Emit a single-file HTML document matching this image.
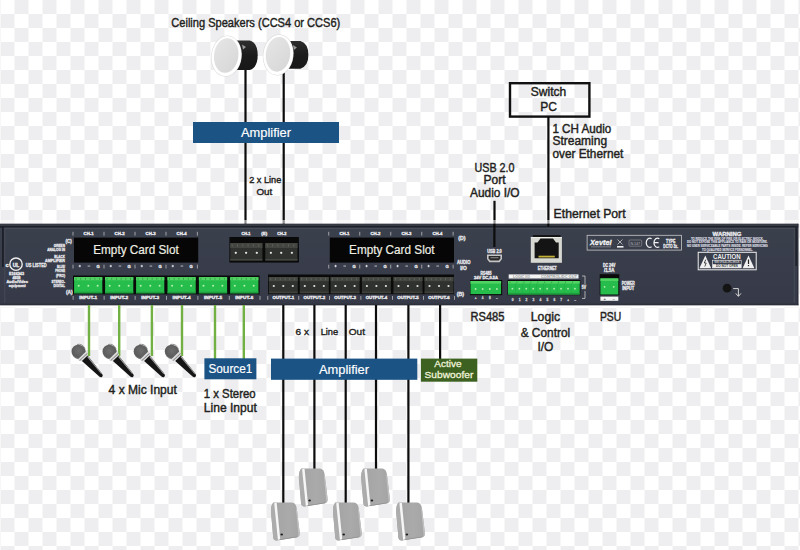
<!DOCTYPE html>
<html><head><meta charset="utf-8"><title>Diagram</title>
<style>
html,body{margin:0;padding:0;width:800px;height:550px;overflow:hidden;background:#fff;}
svg{display:block;font-family:"Liberation Sans",sans-serif;}
</style></head><body>
<svg width="800" height="550" viewBox="0 0 800 550">
<defs>
<pattern id="chk" x="0.5" y="0" width="28" height="28" patternUnits="userSpaceOnUse">
<rect width="28" height="28" fill="#ffffff"/>
<rect x="14" y="0" width="14" height="14" fill="#eeeef0"/>
<rect x="0" y="14" width="14" height="14" fill="#eeeef0"/>
</pattern>
<linearGradient id="face" x1="0" y1="0" x2="1" y2="1">
<stop offset="0" stop-color="#e6e6e6"/><stop offset="1" stop-color="#d6d6d6"/>
</linearGradient>
<linearGradient id="can" x1="0" y1="0" x2="0" y2="1">
<stop offset="0" stop-color="#2e2e2e"/><stop offset="0.5" stop-color="#1c1c1c"/><stop offset="1" stop-color="#181818"/>
</linearGradient>
<linearGradient id="wsp" x1="0" y1="0" x2="1" y2="0">
<stop offset="0" stop-color="#a2a2a2"/><stop offset="0.6" stop-color="#aaaaaa"/><stop offset="1" stop-color="#a4a4a4"/>
</linearGradient>
<radialGradient id="mic" cx="0.45" cy="0.45" r="0.6">
<stop offset="0" stop-color="#6e6e6e"/><stop offset="0.75" stop-color="#5c5c5c"/><stop offset="1" stop-color="#8a8a8a"/>
</radialGradient>
<g id="wall">
<path d="M2.1,0.3 L20.5,0.3 Q24.6,0.6 25.4,6.5 L28.3,30.5 Q28.6,34.3 25.8,34.9 L5.5,38.2 Q2.2,38.5 1.8,35 L-0.4,10 Q-0.6,2.5 2.1,0.3 Z" fill="url(#wsp)"/>
<path d="M2.1,0.3 Q-0.6,2.5 -0.4,10 L1.8,35 Q2.2,38.5 5.5,38.2 L6.4,38 L3,1 Z" fill="#acacac"/>
<path d="M2.8,1 Q4,0.4 5.3,0.6 L8.8,36.8 L6.5,37.6 Z" fill="#f6f6f6"/>
<path d="M25.4,6.5 L28.3,30.5 Q28.6,34.3 25.8,34.9 L27.1,33.3 L24.6,7 Z" fill="#c2c2c2"/>
<path d="M8.6,36.9 L25.8,34.2 L25.8,34.9 L8.6,37.8 Z" fill="#8e8e8e"/>
<ellipse cx="10.3" cy="32.2" rx="1.3" ry="1.1" fill="#1a1a1a"/>
</g>
<g id="micg">
<g transform="rotate(46.5)">
<ellipse cx="0.4" cy="0" rx="7.4" ry="7.1" fill="url(#mic)"/>
<path d="M-6.2,-3.8 A7.2,7.1 0 0 1 2.5,-6.8" fill="none" stroke="#8e8e8e" stroke-width="0.9"/>
<path d="M5.2,-6.2 L9.2,-4.6 L9.2,4.6 L5.2,6.2 Z" fill="#dcdcdc"/>
<path d="M7,-5.5 L7.8,-5.2 L7.8,5.2 L7,5.5 Z" fill="#7a7a7a"/>
<path d="M9.2,-3.9 L32,-2 Q34.6,-1.8 34.6,0 Q34.6,1.8 32,2 L9.2,3.9 Z" fill="#151515"/>
<path d="M10,-3.8 L32,-2 L32,-1.1 L10,-2.6 Z" fill="#a4a4a4"/>
</g>
</g>
<g id="gconn">
<rect x="0" y="0" width="28.2" height="16.2" fill="#27bd4c"/>
<rect x="0" y="0" width="28.2" height="3.2" fill="#52d262"/>
<rect x="0" y="14.6" width="28.2" height="1.6" fill="#1e9e3e"/>
<rect x="1.5" y="0.8" width="0.9" height="1.8" fill="#2a9e40"/><rect x="6.2" y="0.8" width="0.9" height="1.8" fill="#2a9e40"/><rect x="10.9" y="0.8" width="0.9" height="1.8" fill="#2a9e40"/><rect x="15.6" y="0.8" width="0.9" height="1.8" fill="#2a9e40"/><rect x="20.3" y="0.8" width="0.9" height="1.8" fill="#2a9e40"/><rect x="25" y="0.8" width="0.9" height="1.8" fill="#2a9e40"/>
<circle cx="4.6" cy="8.7" r="1" fill="#b4f0b0"/>
<circle cx="14.2" cy="8.7" r="1" fill="#b4f0b0"/>
<circle cx="23.5" cy="8.7" r="1" fill="#b4f0b0"/>
</g>
<g id="bconn">
<rect x="0" y="0" width="29" height="16.5" fill="#30322f"/>
<rect x="0" y="0" width="29" height="4.2" fill="#444741"/>
<rect x="0" y="14.8" width="29" height="0.8" fill="#4a4d48"/>
<rect x="1.5" y="1" width="0.9" height="2.3" fill="#5e615a"/><rect x="6.3" y="1" width="0.9" height="2.3" fill="#5e615a"/><rect x="11" y="1" width="0.9" height="2.3" fill="#5e615a"/><rect x="15.8" y="1" width="0.9" height="2.3" fill="#5e615a"/><rect x="20.6" y="1" width="0.9" height="2.3" fill="#5e615a"/><rect x="25.4" y="1" width="0.9" height="2.3" fill="#5e615a"/>
<circle cx="5" cy="9" r="1.1" fill="#e2e2e2"/>
<circle cx="14.5" cy="9" r="1.1" fill="#e2e2e2"/>
<circle cx="24" cy="9" r="1.1" fill="#e2e2e2"/>
</g>
<linearGradient id="panel" x1="0" y1="0" x2="0" y2="1">
<stop offset="0" stop-color="#3b404d"/><stop offset="1" stop-color="#363a48"/>
</linearGradient>
</defs>
<rect width="800" height="550" fill="url(#chk)"/>

<text x="171.3" y="27.1" font-size="12.5" fill="#231f20" textLength="169" lengthAdjust="spacingAndGlyphs" stroke="#231f20" stroke-width="0.42">Ceiling Speakers (CCS4 or CCS6)</text>
<rect x="244.4" y="66" width="2.2" height="158" fill="#0c0c0c"/>
<rect x="282.6" y="70" width="2.2" height="154" fill="#0c0c0c"/>
<path d="M233,40.5 L249.7,40.5 Q257.7,43.0 257.7,55.25 Q257.7,67.5 249.7,70 L233,70 Z" fill="url(#can)"/>
<path d="M242,44.5 L246,47.0 L243,49.5 Z" fill="#9a9a9a"/>
<ellipse cx="0" cy="0" rx="15.3" ry="20.6" fill="#d9d9d9" transform="translate(226.4,56.1) rotate(7)"/>
<ellipse cx="0" cy="0" rx="14.8" ry="20.1" fill="#fff" transform="translate(226.4,56.1) rotate(7)"/>
<ellipse cx="0" cy="0" rx="12.2" ry="17.4" fill="url(#face)" transform="translate(226.20000000000002,55.5) rotate(7)"/>
<path d="M283.9,40.9 L300.4,40.9 Q308.4,43.4 308.4,54.8 Q308.4,66.2 300.4,68.7 L283.9,68.7 Z" fill="url(#can)"/>
<path d="M292.9,44.9 L296.9,47.4 L293.9,49.9 Z" fill="#9a9a9a"/>
<ellipse cx="0" cy="0" rx="15.3" ry="20.6" fill="#d9d9d9" transform="translate(278.2,54.9) rotate(7)"/>
<ellipse cx="0" cy="0" rx="14.8" ry="20.1" fill="#fff" transform="translate(278.2,54.9) rotate(7)"/>
<ellipse cx="0" cy="0" rx="12.2" ry="17.4" fill="url(#face)" transform="translate(278.0,54.3) rotate(7)"/>
<rect x="193" y="122" width="146" height="21" fill="#1b5385"/>
<text x="266" y="136.6" font-size="13.5" fill="#fff" text-anchor="middle" textLength="50" lengthAdjust="spacingAndGlyphs" stroke="#fff" stroke-width="0.18">Amplifier</text>
<text x="265.2" y="182.5" font-size="9.6" fill="#231f20" text-anchor="middle" textLength="32.1" lengthAdjust="spacingAndGlyphs" stroke="#231f20" stroke-width="0.4">2 x Line</text>
<text x="264.3" y="195.3" font-size="9.6" fill="#231f20" text-anchor="middle" textLength="15.8" lengthAdjust="spacingAndGlyphs" stroke="#231f20" stroke-width="0.4">Out</text>
<rect x="510" y="83.2" width="79.4" height="33.4" fill="none" stroke="#111" stroke-width="2.4"/>
<text x="548.5" y="96.2" font-size="12" fill="#231f20" text-anchor="middle" stroke="#231f20" stroke-width="0.42">Switch</text>
<text x="548.5" y="110.7" font-size="12" fill="#231f20" text-anchor="middle" stroke="#231f20" stroke-width="0.42">PC</text>
<rect x="547.3" y="117" width="2.2" height="108" fill="#0c0c0c"/>
<text x="552.4" y="132.5" font-size="12" fill="#231f20" textLength="58.8" lengthAdjust="spacingAndGlyphs" stroke="#231f20" stroke-width="0.42">1 CH Audio</text>
<text x="552.4" y="145.2" font-size="12" fill="#231f20" stroke="#231f20" stroke-width="0.42">Streaming</text>
<text x="552.4" y="157.8" font-size="12" fill="#231f20" textLength="71" lengthAdjust="spacingAndGlyphs" stroke="#231f20" stroke-width="0.42">over Ethernet</text>
<text x="494.5" y="171.7" font-size="12" fill="#231f20" text-anchor="middle" textLength="40" lengthAdjust="spacingAndGlyphs" stroke="#231f20" stroke-width="0.42">USB 2.0</text>
<text x="494.5" y="184.3" font-size="12" fill="#231f20" text-anchor="middle" stroke="#231f20" stroke-width="0.42">Port</text>
<text x="494.8" y="197" font-size="12" fill="#231f20" text-anchor="middle" textLength="49.6" lengthAdjust="spacingAndGlyphs" stroke="#231f20" stroke-width="0.42">Audio I/O</text>
<rect x="493.4" y="200.8" width="2.2" height="24" fill="#0c0c0c"/>
<text x="553.6" y="217.7" font-size="12" fill="#231f20" textLength="72" lengthAdjust="spacingAndGlyphs" stroke="#231f20" stroke-width="0.42">Ethernet Port</text>
<rect x="0" y="305" width="798" height="2.6" fill="#ffffff"/>
<rect x="0" y="220" width="798" height="3.8" fill="#ffffff" opacity="0.55"/>
<rect x="0" y="223.8" width="798.3" height="81.4" fill="url(#panel)"/>
<rect x="0" y="223.8" width="798.3" height="2.3" fill="#363a43"/>
<rect x="0" y="226.1" width="798.3" height="1.6" fill="#1b1e26"/>
<rect x="4.3" y="227.7" width="790.5" height="1.2" fill="#4a4f5b"/>
<rect x="4.3" y="227.7" width="1" height="75" fill="#464b57"/>
<rect x="793.8" y="227.7" width="1" height="75" fill="#464b57"/>
<rect x="797.2" y="223.8" width="1.1" height="81.4" fill="#2a2d36"/>
<rect x="0" y="303.7" width="798.3" height="1.5" fill="#2d303b"/>
<rect x="2" y="226" width="1.8" height="41" fill="#1c1f27"/>
<rect x="795.4" y="228" width="1.5" height="38" fill="#1e2026"/>
<rect x="493.3" y="224" width="2.2" height="23" fill="#0c0c0c"/>
<rect x="547.2" y="224" width="2.2" height="2.6" fill="#0c0c0c"/>
<circle cx="16" cy="264.2" r="6.2" fill="none" stroke="#eee" stroke-width="1.4"/>
<text x="16" y="266.5" font-size="6.2" fill="#eee" text-anchor="middle" textLength="6.6" lengthAdjust="spacingAndGlyphs" font-weight="bold" stroke="#eee" stroke-width="0.4">UL</text>
<text x="7" y="266.6" font-size="5.8" fill="#eee" text-anchor="middle" font-weight="bold" stroke="#eee" stroke-width="0.3">c</text>
<text x="36.3" y="266.6" font-size="5" fill="#e9e9ec" text-anchor="middle" textLength="20.9" lengthAdjust="spacingAndGlyphs" font-weight="bold" stroke="#e9e9ec" stroke-width="0.32">US LISTED</text>
<text x="16.5" y="274.912" font-size="4.2" fill="#e9e9ec" text-anchor="middle" textLength="15" lengthAdjust="spacingAndGlyphs" font-weight="bold" stroke="#e9e9ec" stroke-width="0.32">E166343</text>
<text x="16.5" y="278.812" font-size="4.2" fill="#e9e9ec" text-anchor="middle" textLength="8" lengthAdjust="spacingAndGlyphs" font-weight="bold" stroke="#e9e9ec" stroke-width="0.32">4B5B</text>
<text x="17.2" y="283.012" font-size="4.2" fill="#e9e9ec" text-anchor="middle" textLength="21.5" lengthAdjust="spacingAndGlyphs" font-weight="bold" stroke="#e9e9ec" stroke-width="0.32">Audio/Video</text>
<text x="17.2" y="287.012" font-size="4.2" fill="#e9e9ec" text-anchor="middle" textLength="17" lengthAdjust="spacingAndGlyphs" font-weight="bold" stroke="#e9e9ec" stroke-width="0.32">equipment</text>
<text x="65" y="247.212" font-size="4.2" fill="#e9e9ec" text-anchor="end" textLength="11.2" lengthAdjust="spacingAndGlyphs" font-weight="bold" stroke="#e9e9ec" stroke-width="0.32">GREEN</text>
<text x="65" y="251.012" font-size="4.2" fill="#e9e9ec" text-anchor="end" textLength="17.8" lengthAdjust="spacingAndGlyphs" font-weight="bold" stroke="#e9e9ec" stroke-width="0.32">ANALOG IN</text>
<text x="65" y="258.012" font-size="4.2" fill="#e9e9ec" text-anchor="end" textLength="10.7" lengthAdjust="spacingAndGlyphs" font-weight="bold" stroke="#e9e9ec" stroke-width="0.32">BLACK</text>
<text x="65" y="261.912" font-size="4.2" fill="#e9e9ec" text-anchor="end" textLength="20" lengthAdjust="spacingAndGlyphs" font-weight="bold" stroke="#e9e9ec" stroke-width="0.32">AMPLIFIER</text>
<text x="65" y="268.312" font-size="4.2" fill="#e9e9ec" text-anchor="end" textLength="8" lengthAdjust="spacingAndGlyphs" font-weight="bold" stroke="#e9e9ec" stroke-width="0.32">BLUE/</text>
<text x="65" y="272.312" font-size="4.2" fill="#e9e9ec" text-anchor="end" textLength="9.8" lengthAdjust="spacingAndGlyphs" font-weight="bold" stroke="#e9e9ec" stroke-width="0.32">PHONE</text>
<text x="65" y="276.612" font-size="4.2" fill="#e9e9ec" text-anchor="end" textLength="9" lengthAdjust="spacingAndGlyphs" font-weight="bold" stroke="#e9e9ec" stroke-width="0.32">(PRO)</text>
<text x="65" y="283.012" font-size="4.2" fill="#e9e9ec" text-anchor="end" textLength="13.5" lengthAdjust="spacingAndGlyphs" font-weight="bold" stroke="#e9e9ec" stroke-width="0.32">STEREO-</text>
<text x="65" y="287.312" font-size="4.2" fill="#e9e9ec" text-anchor="end" textLength="11.5" lengthAdjust="spacingAndGlyphs" font-weight="bold" stroke="#e9e9ec" stroke-width="0.32">DIGITAL</text>
<text x="68.7" y="242.70000000000002" font-size="5" fill="#e9e9ec" text-anchor="middle" textLength="6.4" lengthAdjust="spacingAndGlyphs" font-weight="bold" stroke="#e9e9ec" stroke-width="0.32">(C)</text>
<text x="69.3" y="294.0" font-size="5" fill="#e9e9ec" text-anchor="middle" textLength="6.7" lengthAdjust="spacingAndGlyphs" font-weight="bold" stroke="#e9e9ec" stroke-width="0.32">(A)</text>
<rect x="74" y="237.6" width="124.2" height="25" fill="#060606"/>
<text x="136" y="254.4" font-size="13.3" fill="#efefe4" text-anchor="middle" textLength="85.5" lengthAdjust="spacingAndGlyphs" stroke="#efefe4" stroke-width="0.2">Empty Card Slot</text>
<text x="88.6" y="235.304" font-size="3.9" fill="#e9e9ec" text-anchor="middle" textLength="10" lengthAdjust="spacingAndGlyphs" font-weight="bold" stroke="#e9e9ec" stroke-width="0.32">CH-1</text>
<rect x="72.6" y="231.8" width="0.8" height="3.8" fill="#bbb"/>
<rect x="78.6" y="265.6" width="2.4" height="0.9" fill="#e4e4e8"/>
<rect x="79.35" y="264.85" width="0.9" height="2.4" fill="#e4e4e8"/>
<rect x="87.6" y="265.6" width="2.6" height="0.9" fill="#c8c8cc"/>
<text x="98.2" y="267.684" font-size="4.4" fill="#e9e9ec" text-anchor="middle" textLength="3.2" lengthAdjust="spacingAndGlyphs" font-weight="bold" stroke="#e9e9ec" stroke-width="0.32">G</text>
<rect x="72.6" y="264.7" width="0.8" height="3.8" fill="#bbb"/>
<text x="119.6" y="235.304" font-size="3.9" fill="#e9e9ec" text-anchor="middle" textLength="10" lengthAdjust="spacingAndGlyphs" font-weight="bold" stroke="#e9e9ec" stroke-width="0.32">CH-2</text>
<rect x="103.6" y="231.8" width="0.8" height="3.8" fill="#bbb"/>
<rect x="109.6" y="265.6" width="2.4" height="0.9" fill="#e4e4e8"/>
<rect x="110.35" y="264.85" width="0.9" height="2.4" fill="#e4e4e8"/>
<rect x="118.6" y="265.6" width="2.6" height="0.9" fill="#c8c8cc"/>
<text x="129.2" y="267.684" font-size="4.4" fill="#e9e9ec" text-anchor="middle" textLength="3.2" lengthAdjust="spacingAndGlyphs" font-weight="bold" stroke="#e9e9ec" stroke-width="0.32">G</text>
<rect x="103.6" y="264.7" width="0.8" height="3.8" fill="#bbb"/>
<text x="150.6" y="235.304" font-size="3.9" fill="#e9e9ec" text-anchor="middle" textLength="10" lengthAdjust="spacingAndGlyphs" font-weight="bold" stroke="#e9e9ec" stroke-width="0.32">CH-3</text>
<rect x="134.6" y="231.8" width="0.8" height="3.8" fill="#bbb"/>
<rect x="140.6" y="265.6" width="2.4" height="0.9" fill="#e4e4e8"/>
<rect x="141.35" y="264.85" width="0.9" height="2.4" fill="#e4e4e8"/>
<rect x="149.6" y="265.6" width="2.6" height="0.9" fill="#c8c8cc"/>
<text x="160.2" y="267.684" font-size="4.4" fill="#e9e9ec" text-anchor="middle" textLength="3.2" lengthAdjust="spacingAndGlyphs" font-weight="bold" stroke="#e9e9ec" stroke-width="0.32">G</text>
<rect x="134.6" y="264.7" width="0.8" height="3.8" fill="#bbb"/>
<text x="181.6" y="235.304" font-size="3.9" fill="#e9e9ec" text-anchor="middle" textLength="10" lengthAdjust="spacingAndGlyphs" font-weight="bold" stroke="#e9e9ec" stroke-width="0.32">CH-4</text>
<rect x="165.6" y="231.8" width="0.8" height="3.8" fill="#bbb"/>
<rect x="171.6" y="265.6" width="2.4" height="0.9" fill="#e4e4e8"/>
<rect x="172.35" y="264.85" width="0.9" height="2.4" fill="#e4e4e8"/>
<rect x="180.6" y="265.6" width="2.6" height="0.9" fill="#c8c8cc"/>
<text x="191.2" y="267.684" font-size="4.4" fill="#e9e9ec" text-anchor="middle" textLength="3.2" lengthAdjust="spacingAndGlyphs" font-weight="bold" stroke="#e9e9ec" stroke-width="0.32">G</text>
<rect x="165.6" y="264.7" width="0.8" height="3.8" fill="#bbb"/>
<rect x="196.9" y="231.8" width="0.8" height="3.8" fill="#bbb"/>
<rect x="196.9" y="264.7" width="0.8" height="3.8" fill="#bbb"/>
<rect x="329.8" y="237.6" width="124.2" height="25" fill="#060606"/>
<text x="391.8" y="254.4" font-size="13.3" fill="#efefe4" text-anchor="middle" textLength="85.5" lengthAdjust="spacingAndGlyphs" stroke="#efefe4" stroke-width="0.2">Empty Card Slot</text>
<text x="344.40000000000003" y="235.304" font-size="3.9" fill="#e9e9ec" text-anchor="middle" textLength="10" lengthAdjust="spacingAndGlyphs" font-weight="bold" stroke="#e9e9ec" stroke-width="0.32">CH-1</text>
<rect x="328.40000000000003" y="231.8" width="0.8" height="3.8" fill="#bbb"/>
<rect x="334.40000000000003" y="265.6" width="2.4" height="0.9" fill="#e4e4e8"/>
<rect x="335.15000000000003" y="264.85" width="0.9" height="2.4" fill="#e4e4e8"/>
<rect x="343.40000000000003" y="265.6" width="2.6" height="0.9" fill="#c8c8cc"/>
<text x="354.0" y="267.684" font-size="4.4" fill="#e9e9ec" text-anchor="middle" textLength="3.2" lengthAdjust="spacingAndGlyphs" font-weight="bold" stroke="#e9e9ec" stroke-width="0.32">G</text>
<rect x="328.40000000000003" y="264.7" width="0.8" height="3.8" fill="#bbb"/>
<text x="375.40000000000003" y="235.304" font-size="3.9" fill="#e9e9ec" text-anchor="middle" textLength="10" lengthAdjust="spacingAndGlyphs" font-weight="bold" stroke="#e9e9ec" stroke-width="0.32">CH-2</text>
<rect x="359.40000000000003" y="231.8" width="0.8" height="3.8" fill="#bbb"/>
<rect x="365.40000000000003" y="265.6" width="2.4" height="0.9" fill="#e4e4e8"/>
<rect x="366.15000000000003" y="264.85" width="0.9" height="2.4" fill="#e4e4e8"/>
<rect x="374.40000000000003" y="265.6" width="2.6" height="0.9" fill="#c8c8cc"/>
<text x="385.0" y="267.684" font-size="4.4" fill="#e9e9ec" text-anchor="middle" textLength="3.2" lengthAdjust="spacingAndGlyphs" font-weight="bold" stroke="#e9e9ec" stroke-width="0.32">G</text>
<rect x="359.40000000000003" y="264.7" width="0.8" height="3.8" fill="#bbb"/>
<text x="406.40000000000003" y="235.304" font-size="3.9" fill="#e9e9ec" text-anchor="middle" textLength="10" lengthAdjust="spacingAndGlyphs" font-weight="bold" stroke="#e9e9ec" stroke-width="0.32">CH-3</text>
<rect x="390.40000000000003" y="231.8" width="0.8" height="3.8" fill="#bbb"/>
<rect x="396.40000000000003" y="265.6" width="2.4" height="0.9" fill="#e4e4e8"/>
<rect x="397.15000000000003" y="264.85" width="0.9" height="2.4" fill="#e4e4e8"/>
<rect x="405.40000000000003" y="265.6" width="2.6" height="0.9" fill="#c8c8cc"/>
<text x="416.0" y="267.684" font-size="4.4" fill="#e9e9ec" text-anchor="middle" textLength="3.2" lengthAdjust="spacingAndGlyphs" font-weight="bold" stroke="#e9e9ec" stroke-width="0.32">G</text>
<rect x="390.40000000000003" y="264.7" width="0.8" height="3.8" fill="#bbb"/>
<text x="437.40000000000003" y="235.304" font-size="3.9" fill="#e9e9ec" text-anchor="middle" textLength="10" lengthAdjust="spacingAndGlyphs" font-weight="bold" stroke="#e9e9ec" stroke-width="0.32">CH-4</text>
<rect x="421.40000000000003" y="231.8" width="0.8" height="3.8" fill="#bbb"/>
<rect x="427.40000000000003" y="265.6" width="2.4" height="0.9" fill="#e4e4e8"/>
<rect x="428.15000000000003" y="264.85" width="0.9" height="2.4" fill="#e4e4e8"/>
<rect x="436.40000000000003" y="265.6" width="2.6" height="0.9" fill="#c8c8cc"/>
<text x="447.0" y="267.684" font-size="4.4" fill="#e9e9ec" text-anchor="middle" textLength="3.2" lengthAdjust="spacingAndGlyphs" font-weight="bold" stroke="#e9e9ec" stroke-width="0.32">G</text>
<rect x="421.40000000000003" y="264.7" width="0.8" height="3.8" fill="#bbb"/>
<rect x="452.70000000000005" y="231.8" width="0.8" height="3.8" fill="#bbb"/>
<rect x="452.70000000000005" y="264.7" width="0.8" height="3.8" fill="#bbb"/>
<rect x="229.4" y="237" width="69.5" height="25.6" fill="#0a0a0a"/>
<rect x="230.2" y="243" width="32.2" height="18" fill="#30322f"/>
<rect x="230.2" y="243" width="32.2" height="5" fill="#434640"/>
<rect x="231.7" y="244.2" width="1" height="2.4" fill="#5c5f58"/>
<rect x="237.0" y="244.2" width="1" height="2.4" fill="#5c5f58"/>
<rect x="242.29999999999998" y="244.2" width="1" height="2.4" fill="#5c5f58"/>
<rect x="247.6" y="244.2" width="1" height="2.4" fill="#5c5f58"/>
<rect x="252.89999999999998" y="244.2" width="1" height="2.4" fill="#5c5f58"/>
<rect x="258.2" y="244.2" width="1" height="2.4" fill="#5c5f58"/>
<rect x="230.2" y="259.2" width="32.2" height="0.8" fill="#4a4d48"/>
<circle cx="235.79999999999998" cy="252.8" r="1.15" fill="#e4e4e4"/>
<circle cx="246.1" cy="252.8" r="1.15" fill="#e4e4e4"/>
<circle cx="256.8" cy="252.8" r="1.15" fill="#e4e4e4"/>
<rect x="265.3" y="243" width="32.2" height="18" fill="#30322f"/>
<rect x="265.3" y="243" width="32.2" height="5" fill="#434640"/>
<rect x="266.8" y="244.2" width="1" height="2.4" fill="#5c5f58"/>
<rect x="272.1" y="244.2" width="1" height="2.4" fill="#5c5f58"/>
<rect x="277.40000000000003" y="244.2" width="1" height="2.4" fill="#5c5f58"/>
<rect x="282.7" y="244.2" width="1" height="2.4" fill="#5c5f58"/>
<rect x="288.0" y="244.2" width="1" height="2.4" fill="#5c5f58"/>
<rect x="293.3" y="244.2" width="1" height="2.4" fill="#5c5f58"/>
<rect x="265.3" y="259.2" width="32.2" height="0.8" fill="#4a4d48"/>
<circle cx="270.90000000000003" cy="252.8" r="1.15" fill="#e4e4e4"/>
<circle cx="281.2" cy="252.8" r="1.15" fill="#e4e4e4"/>
<circle cx="291.90000000000003" cy="252.8" r="1.15" fill="#e4e4e4"/>
<text x="246" y="235.004" font-size="3.9" fill="#e9e9ec" text-anchor="middle" textLength="9" lengthAdjust="spacingAndGlyphs" font-weight="bold" stroke="#e9e9ec" stroke-width="0.32">CH-1</text>
<text x="264.2" y="235.112" font-size="4.2" fill="#e9e9ec" text-anchor="middle" textLength="6" lengthAdjust="spacingAndGlyphs" font-weight="bold" stroke="#e9e9ec" stroke-width="0.32">(E)</text>
<text x="281.8" y="235.004" font-size="3.9" fill="#e9e9ec" text-anchor="middle" textLength="9" lengthAdjust="spacingAndGlyphs" font-weight="bold" stroke="#e9e9ec" stroke-width="0.32">CH-2</text>
<rect x="73" y="275.5" width="186.6" height="18.8" fill="#0a0a0a"/>
<use href="#gconn" transform="translate(74.1,277.1)"/>
<text x="88.19999999999999" y="299.23199999999997" font-size="3.7" fill="#e9e9ec" text-anchor="middle" textLength="18" lengthAdjust="spacingAndGlyphs" font-weight="bold" stroke="#e9e9ec" stroke-width="0.32">INPUT-1</text>
<rect x="72.69999999999999" y="296" width="0.8" height="3.8" fill="#bbb"/>
<use href="#gconn" transform="translate(105.1,277.1)"/>
<text x="119.19999999999999" y="299.23199999999997" font-size="3.7" fill="#e9e9ec" text-anchor="middle" textLength="18" lengthAdjust="spacingAndGlyphs" font-weight="bold" stroke="#e9e9ec" stroke-width="0.32">INPUT-2</text>
<rect x="103.69999999999999" y="296" width="0.8" height="3.8" fill="#bbb"/>
<use href="#gconn" transform="translate(136.1,277.1)"/>
<text x="150.2" y="299.23199999999997" font-size="3.7" fill="#e9e9ec" text-anchor="middle" textLength="18" lengthAdjust="spacingAndGlyphs" font-weight="bold" stroke="#e9e9ec" stroke-width="0.32">INPUT-3</text>
<rect x="134.7" y="296" width="0.8" height="3.8" fill="#bbb"/>
<use href="#gconn" transform="translate(167.5,277.1)"/>
<text x="181.6" y="299.23199999999997" font-size="3.7" fill="#e9e9ec" text-anchor="middle" textLength="18" lengthAdjust="spacingAndGlyphs" font-weight="bold" stroke="#e9e9ec" stroke-width="0.32">INPUT-4</text>
<rect x="166.1" y="296" width="0.8" height="3.8" fill="#bbb"/>
<use href="#gconn" transform="translate(198.9,277.1)"/>
<text x="213.0" y="299.23199999999997" font-size="3.7" fill="#e9e9ec" text-anchor="middle" textLength="18" lengthAdjust="spacingAndGlyphs" font-weight="bold" stroke="#e9e9ec" stroke-width="0.32">INPUT-5</text>
<rect x="197.5" y="296" width="0.8" height="3.8" fill="#bbb"/>
<use href="#gconn" transform="translate(230.2,277.1)"/>
<text x="244.29999999999998" y="299.23199999999997" font-size="3.7" fill="#e9e9ec" text-anchor="middle" textLength="18" lengthAdjust="spacingAndGlyphs" font-weight="bold" stroke="#e9e9ec" stroke-width="0.32">INPUT-6</text>
<rect x="228.79999999999998" y="296" width="0.8" height="3.8" fill="#bbb"/>
<rect x="259.6" y="296" width="0.8" height="3.8" fill="#bbb"/>
<rect x="268" y="274.5" width="186" height="19.7" fill="#0a0a0a"/>
<use href="#bconn" transform="translate(268.8,277)"/>
<text x="283.3" y="299.23199999999997" font-size="3.7" fill="#e9e9ec" text-anchor="middle" textLength="21.5" lengthAdjust="spacingAndGlyphs" font-weight="bold" stroke="#e9e9ec" stroke-width="0.32">OUTPUT-1</text>
<rect x="267.40000000000003" y="296" width="0.8" height="3.8" fill="#bbb"/>
<use href="#bconn" transform="translate(299.8,277)"/>
<text x="314.3" y="299.23199999999997" font-size="3.7" fill="#e9e9ec" text-anchor="middle" textLength="21.5" lengthAdjust="spacingAndGlyphs" font-weight="bold" stroke="#e9e9ec" stroke-width="0.32">OUTPUT-2</text>
<rect x="298.40000000000003" y="296" width="0.8" height="3.8" fill="#bbb"/>
<use href="#bconn" transform="translate(330.6,277)"/>
<text x="345.1" y="299.23199999999997" font-size="3.7" fill="#e9e9ec" text-anchor="middle" textLength="21.5" lengthAdjust="spacingAndGlyphs" font-weight="bold" stroke="#e9e9ec" stroke-width="0.32">OUTPUT-3</text>
<rect x="329.20000000000005" y="296" width="0.8" height="3.8" fill="#bbb"/>
<use href="#bconn" transform="translate(361.9,277)"/>
<text x="376.4" y="299.23199999999997" font-size="3.7" fill="#e9e9ec" text-anchor="middle" textLength="21.5" lengthAdjust="spacingAndGlyphs" font-weight="bold" stroke="#e9e9ec" stroke-width="0.32">OUTPUT-4</text>
<rect x="360.5" y="296" width="0.8" height="3.8" fill="#bbb"/>
<use href="#bconn" transform="translate(393.5,277)"/>
<text x="408.0" y="299.23199999999997" font-size="3.7" fill="#e9e9ec" text-anchor="middle" textLength="21.5" lengthAdjust="spacingAndGlyphs" font-weight="bold" stroke="#e9e9ec" stroke-width="0.32">OUTPUT-5</text>
<rect x="392.1" y="296" width="0.8" height="3.8" fill="#bbb"/>
<use href="#bconn" transform="translate(424.5,277)"/>
<text x="439.0" y="299.23199999999997" font-size="3.7" fill="#e9e9ec" text-anchor="middle" textLength="21.5" lengthAdjust="spacingAndGlyphs" font-weight="bold" stroke="#e9e9ec" stroke-width="0.32">OUTPUT-6</text>
<rect x="423.1" y="296" width="0.8" height="3.8" fill="#bbb"/>
<rect x="454.2" y="296" width="0.8" height="3.8" fill="#bbb"/>
<text x="461.8" y="240.4" font-size="5" fill="#e9e9ec" text-anchor="middle" textLength="7.3" lengthAdjust="spacingAndGlyphs" font-weight="bold" stroke="#e9e9ec" stroke-width="0.32">(D)</text>
<text x="463.8" y="264.25600000000003" font-size="4.6" fill="#e9e9ec" text-anchor="middle" textLength="13.5" lengthAdjust="spacingAndGlyphs" font-weight="bold" stroke="#e9e9ec" stroke-width="0.32">AUDIO</text>
<text x="463.5" y="270.156" font-size="4.6" fill="#e9e9ec" text-anchor="middle" textLength="6.5" lengthAdjust="spacingAndGlyphs" font-weight="bold" stroke="#e9e9ec" stroke-width="0.32">I/O</text>
<text x="460.3" y="296.0" font-size="5" fill="#e9e9ec" text-anchor="middle" textLength="7.3" lengthAdjust="spacingAndGlyphs" font-weight="bold" stroke="#e9e9ec" stroke-width="0.32">(B)</text>
<text x="494.5" y="253.22" font-size="4.5" fill="#e9e9ec" text-anchor="middle" textLength="14.5" lengthAdjust="spacingAndGlyphs" font-weight="bold" stroke="#e9e9ec" stroke-width="0.32">USB 2.0</text>
<path d="M487,254.4 L502,254.4 L502,259 L499.6,262.2 L489.4,262.2 L487,259 Z" fill="#c4c4c4"/>
<path d="M488.6,256 L500.4,256 L500.4,258.6 L498.8,260.6 L490.2,260.6 L488.6,258.6 Z" fill="#2a2a2a"/>
<rect x="490.5" y="257" width="8" height="1.3" fill="#777"/>
<rect x="533" y="235" width="27.5" height="2.2" fill="#151515"/>
<rect x="530.8" y="237" width="31.1" height="25.8" fill="#d8d8d2"/>
<rect x="530.8" y="237" width="31.1" height="0.8" fill="#f2f2ee"/>
<path d="M534.6,242.6 L537.5,242.6 L540.5,238.6 L553,238.6 L556,242.6 L558.7,242.6 L558.7,258.3 L534.6,258.3 Z" fill="#141414"/>
<rect x="538.5" y="255.7" width="16.3" height="1.8" fill="#c2b038"/>
<text x="547.2" y="269.82" font-size="4.5" fill="#e9e9ec" text-anchor="middle" textLength="19" lengthAdjust="spacingAndGlyphs" font-weight="bold" stroke="#e9e9ec" stroke-width="0.32">ETHERNET</text>
<text x="486" y="274.62" font-size="4.5" fill="#e9e9ec" text-anchor="middle" textLength="11" lengthAdjust="spacingAndGlyphs" font-weight="bold" stroke="#e9e9ec" stroke-width="0.32">RS485</text>
<text x="486" y="278.548" font-size="4.3" fill="#e9e9ec" text-anchor="middle" textLength="24" lengthAdjust="spacingAndGlyphs" font-weight="bold" stroke="#e9e9ec" stroke-width="0.32">24V DC,0.5A</text>
<rect x="470" y="280" width="32.2" height="15.2" fill="#0a0a0a"/>
<rect x="470.5" y="281" width="30.6" height="13.1" fill="#27bd4c"/>
<rect x="470.5" y="281" width="30.6" height="2.6" fill="#52d262"/>
<circle cx="475.6" cy="289" r="0.9" fill="#b4f0b0"/>
<circle cx="482.70000000000005" cy="289" r="0.9" fill="#b4f0b0"/>
<circle cx="489.8" cy="289" r="0.9" fill="#b4f0b0"/>
<circle cx="496.90000000000003" cy="289" r="0.9" fill="#b4f0b0"/>
<text x="475.6" y="298.524" font-size="3.4" fill="#c8c8cc" text-anchor="middle" textLength="1.8" lengthAdjust="spacingAndGlyphs" font-weight="bold" stroke="#c8c8cc" stroke-width="0.32">+</text>
<text x="482.70000000000005" y="298.524" font-size="3.4" fill="#c8c8cc" text-anchor="middle" textLength="1.8" lengthAdjust="spacingAndGlyphs" font-weight="bold" stroke="#c8c8cc" stroke-width="0.32">A</text>
<text x="489.8" y="298.524" font-size="3.4" fill="#c8c8cc" text-anchor="middle" textLength="1.8" lengthAdjust="spacingAndGlyphs" font-weight="bold" stroke="#c8c8cc" stroke-width="0.32">B</text>
<text x="496.90000000000003" y="298.524" font-size="3.4" fill="#c8c8cc" text-anchor="middle" textLength="1.8" lengthAdjust="spacingAndGlyphs" font-weight="bold" stroke="#c8c8cc" stroke-width="0.32">–</text>
<rect x="507.5" y="280" width="72.8" height="15.2" fill="#0a0a0a"/>
<rect x="508" y="281" width="71.7" height="13.5" fill="#27bd4c"/>
<rect x="508" y="281" width="71.7" height="2.6" fill="#52d262"/>
<rect x="508.7" y="274.4" width="69.8" height="4.1" fill="#f4f4f4"/>
<text x="513" y="278" font-size="3.6" fill="#999" textLength="17" lengthAdjust="spacingAndGlyphs" font-weight="bold">LOGIC I/O</text>
<text x="541" y="278" font-size="3.6" fill="#999" textLength="36" lengthAdjust="spacingAndGlyphs" font-weight="bold">CONTROL/DC OUT</text>
<circle cx="512.4" cy="288.7" r="0.9" fill="#b4f0b0"/>
<rect x="509.6" y="281.6" width="0.8" height="1.6" fill="#2a9e40"/>
<rect x="515.3" y="283.5" width="0.5" height="10.5" fill="#22a846"/>
<circle cx="519.35" cy="288.7" r="0.9" fill="#b4f0b0"/>
<rect x="516.5500000000001" y="281.6" width="0.8" height="1.6" fill="#2a9e40"/>
<rect x="522.25" y="283.5" width="0.5" height="10.5" fill="#22a846"/>
<circle cx="526.3" cy="288.7" r="0.9" fill="#b4f0b0"/>
<rect x="523.5" y="281.6" width="0.8" height="1.6" fill="#2a9e40"/>
<rect x="529.1999999999999" y="283.5" width="0.5" height="10.5" fill="#22a846"/>
<circle cx="533.25" cy="288.7" r="0.9" fill="#b4f0b0"/>
<rect x="530.45" y="281.6" width="0.8" height="1.6" fill="#2a9e40"/>
<rect x="536.15" y="283.5" width="0.5" height="10.5" fill="#22a846"/>
<circle cx="540.1999999999999" cy="288.7" r="0.9" fill="#b4f0b0"/>
<rect x="537.4" y="281.6" width="0.8" height="1.6" fill="#2a9e40"/>
<rect x="543.0999999999999" y="283.5" width="0.5" height="10.5" fill="#22a846"/>
<circle cx="547.15" cy="288.7" r="0.9" fill="#b4f0b0"/>
<rect x="544.35" y="281.6" width="0.8" height="1.6" fill="#2a9e40"/>
<rect x="550.05" y="283.5" width="0.5" height="10.5" fill="#22a846"/>
<circle cx="554.1" cy="288.7" r="0.9" fill="#b4f0b0"/>
<rect x="551.3000000000001" y="281.6" width="0.8" height="1.6" fill="#2a9e40"/>
<rect x="557.0" y="283.5" width="0.5" height="10.5" fill="#22a846"/>
<circle cx="561.05" cy="288.7" r="0.9" fill="#b4f0b0"/>
<rect x="558.25" y="281.6" width="0.8" height="1.6" fill="#2a9e40"/>
<rect x="563.9499999999999" y="283.5" width="0.5" height="10.5" fill="#22a846"/>
<circle cx="568.0" cy="288.7" r="0.9" fill="#b4f0b0"/>
<rect x="565.2" y="281.6" width="0.8" height="1.6" fill="#2a9e40"/>
<rect x="570.9" y="283.5" width="0.5" height="10.5" fill="#22a846"/>
<circle cx="574.9499999999999" cy="288.7" r="0.9" fill="#b4f0b0"/>
<rect x="572.15" y="281.6" width="0.8" height="1.6" fill="#2a9e40"/>
<rect x="577.8499999999999" y="283.5" width="0.5" height="10.5" fill="#22a846"/>
<rect x="508" y="292.8" width="71.7" height="1.7" fill="#1e9e3e"/>
<text x="512.6" y="300.824" font-size="3.4" fill="#c8c8cc" text-anchor="middle" textLength="1.8" lengthAdjust="spacingAndGlyphs" font-weight="bold" stroke="#c8c8cc" stroke-width="0.32">0</text>
<text x="519.5500000000001" y="300.824" font-size="3.4" fill="#c8c8cc" text-anchor="middle" textLength="1.8" lengthAdjust="spacingAndGlyphs" font-weight="bold" stroke="#c8c8cc" stroke-width="0.32">1</text>
<text x="526.5" y="300.824" font-size="3.4" fill="#c8c8cc" text-anchor="middle" textLength="1.8" lengthAdjust="spacingAndGlyphs" font-weight="bold" stroke="#c8c8cc" stroke-width="0.32">2</text>
<text x="533.45" y="300.824" font-size="3.4" fill="#c8c8cc" text-anchor="middle" textLength="1.8" lengthAdjust="spacingAndGlyphs" font-weight="bold" stroke="#c8c8cc" stroke-width="0.32">3</text>
<text x="540.4" y="300.824" font-size="3.4" fill="#c8c8cc" text-anchor="middle" textLength="1.8" lengthAdjust="spacingAndGlyphs" font-weight="bold" stroke="#c8c8cc" stroke-width="0.32">4</text>
<text x="547.35" y="300.824" font-size="3.4" fill="#c8c8cc" text-anchor="middle" textLength="1.8" lengthAdjust="spacingAndGlyphs" font-weight="bold" stroke="#c8c8cc" stroke-width="0.32">5</text>
<text x="554.3000000000001" y="300.824" font-size="3.4" fill="#c8c8cc" text-anchor="middle" textLength="1.8" lengthAdjust="spacingAndGlyphs" font-weight="bold" stroke="#c8c8cc" stroke-width="0.32">6</text>
<text x="561.25" y="300.824" font-size="3.4" fill="#c8c8cc" text-anchor="middle" textLength="1.8" lengthAdjust="spacingAndGlyphs" font-weight="bold" stroke="#c8c8cc" stroke-width="0.32">7</text>
<text x="568.2" y="300.824" font-size="3.4" fill="#c8c8cc" text-anchor="middle" textLength="1.8" lengthAdjust="spacingAndGlyphs" font-weight="bold" stroke="#c8c8cc" stroke-width="0.32">+</text>
<text x="575.15" y="300.824" font-size="3.4" fill="#c8c8cc" text-anchor="middle" textLength="1.8" lengthAdjust="spacingAndGlyphs" font-weight="bold" stroke="#c8c8cc" stroke-width="0.32">–</text>
<path d="M582,276 L585,276 L585,284.5 M585,291 L585,298.4 L582,298.4" fill="none" stroke="#ccc" stroke-width="0.8"/>
<text x="583.9" y="289.12" font-size="4.5" fill="#e9e9ec" text-anchor="middle" textLength="4.2" lengthAdjust="spacingAndGlyphs" font-weight="bold" stroke="#e9e9ec" stroke-width="0.32">5V</text>
<text x="609.2" y="267.12" font-size="4.5" fill="#e9e9ec" text-anchor="middle" textLength="12.6" lengthAdjust="spacingAndGlyphs" font-weight="bold" stroke="#e9e9ec" stroke-width="0.32">DC 24V</text>
<text x="609.2" y="272.32" font-size="4.5" fill="#e9e9ec" text-anchor="middle" textLength="10.5" lengthAdjust="spacingAndGlyphs" font-weight="bold" stroke="#e9e9ec" stroke-width="0.32">/1.5A</text>
<rect x="599.7" y="274.2" width="19.6" height="21" fill="#0a0a0a"/>
<rect x="600.4" y="278.4" width="17.9" height="16.1" fill="#27bd4c"/>
<rect x="600.4" y="278.4" width="17.9" height="2.6" fill="#52d262"/>
<circle cx="604.6" cy="286.8" r="0.9" fill="#b4f0b0"/><circle cx="613.7" cy="286.8" r="0.9" fill="#b4f0b0"/>
<rect x="600.4" y="296.6" width="17.9" height="4.2" fill="#f4f4f4"/>
<text x="604.6" y="300.2" font-size="4" fill="#444" text-anchor="middle" font-weight="bold">+</text>
<text x="613.7" y="300.2" font-size="4" fill="#444" text-anchor="middle" font-weight="bold">–</text>
<text x="628.2" y="284.52" font-size="4.5" fill="#e9e9ec" text-anchor="middle" textLength="13" lengthAdjust="spacingAndGlyphs" font-weight="bold" stroke="#e9e9ec" stroke-width="0.32">POWER</text>
<text x="628.2" y="290.12" font-size="4.5" fill="#e9e9ec" text-anchor="middle" textLength="12" lengthAdjust="spacingAndGlyphs" font-weight="bold" stroke="#e9e9ec" stroke-width="0.32">INPUT</text>
<rect x="587.1" y="235.3" width="94.5" height="14.8" fill="none" stroke="#c8c8c8" stroke-width="0.8"/>
<text x="590" y="244.9" font-size="8" fill="#f4f4f4" textLength="21.5" lengthAdjust="spacingAndGlyphs" font-weight="bold" font-style="italic" stroke="#f4f4f4" stroke-width="0.3">Xevtel</text>
<rect x="591" y="246.6" width="20" height="0.6" fill="#aaa"/>
<path d="M617.5,239.5 L622.5,244.5 M622.5,239.5 L617.5,244.5" stroke="#ddd" stroke-width="0.7"/>
<rect x="617" y="246" width="6.5" height="1.6" fill="#eee"/>
<rect x="629" y="240" width="12.7" height="6.2" rx="1" fill="none" stroke="#999" stroke-width="0.6"/>
<text x="635.3" y="244.6" font-size="3.6" fill="#bbb" text-anchor="middle">N.147</text>
<path d="M651.6,238.7 A3.6,4.6 0 1 0 651.6,246.7 M659.3,238.7 A3.6,4.6 0 1 0 659.3,246.7 M654.6,242.7 L658.6,242.7" fill="none" stroke="#f2f2f2" stroke-width="1.25"/>
<text x="670.7" y="242.856" font-size="4.6" fill="#e9e9ec" text-anchor="middle" textLength="9.3" lengthAdjust="spacingAndGlyphs" font-weight="bold" stroke="#e9e9ec" stroke-width="0.32">TYPE</text>
<text x="670.7" y="247.856" font-size="4.6" fill="#e9e9ec" text-anchor="middle" textLength="14.7" lengthAdjust="spacingAndGlyphs" font-weight="bold" stroke="#e9e9ec" stroke-width="0.32">DCTO 3x.</text>
<text x="727" y="236.372" font-size="5.2" fill="#e9e9ec" text-anchor="middle" textLength="28.8" lengthAdjust="spacingAndGlyphs" font-weight="bold" stroke="#e9e9ec" stroke-width="0.32">WARNING</text>
<text x="727.2" y="239.7" font-size="3.4" fill="#dcdde0" text-anchor="middle" textLength="72.60000000000002" lengthAdjust="spacingAndGlyphs" font-weight="bold" stroke="#dcdde0" stroke-width="0.15">TO REDUCE THE RISK OF FIRE OR ELECTRIC SHOCK,</text>
<text x="727.35" y="243.39999999999998" font-size="3.4" fill="#dcdde0" text-anchor="middle" textLength="80.70000000000005" lengthAdjust="spacingAndGlyphs" font-weight="bold" stroke="#dcdde0" stroke-width="0.15">DO NOT EXPOSE THIS APPLIANCE TO RAIN OR MOISTURE.</text>
<text x="727.35" y="247.29999999999998" font-size="3.4" fill="#dcdde0" text-anchor="middle" textLength="80.70000000000005" lengthAdjust="spacingAndGlyphs" font-weight="bold" stroke="#dcdde0" stroke-width="0.15">NO USER SERVICEABLE PARTS INSIDE. REFER SERVICING</text>
<text x="727.5" y="251.0" font-size="3.4" fill="#dcdde0" text-anchor="middle" textLength="51" lengthAdjust="spacingAndGlyphs" font-weight="bold" stroke="#dcdde0" stroke-width="0.15">TO QUALIFIED SERVICE PERSONNEL.</text>
<rect x="698.2" y="252.3" width="58" height="17.5" fill="none" stroke="#eee" stroke-width="1"/>
<path d="M699.4,268.2 L705.3,255.5 L711.2,268.2 Z" fill="#f0f0f0"/>
<path d="M742.6,268.2 L748.5,255.5 L754.4,268.2 Z" fill="#f0f0f0"/>
<path d="M705.8,259.5 L704.3,263 L706.2,263 L704.8,266.5" fill="none" stroke="#222" stroke-width="0.8"/>
<rect x="747.9" y="259.5" width="1.2" height="4.5" fill="#222"/>
<rect x="747.9" y="265" width="1.2" height="1.2" fill="#222"/>
<text x="726.8" y="258.8" font-size="6.3" fill="#f0f0f0" text-anchor="middle" textLength="27.6" lengthAdjust="spacingAndGlyphs" font-weight="bold">CAUTION</text>
<rect x="712.6" y="260.2" width="28.6" height="7.7" fill="none" stroke="#eee" stroke-width="0.6"/>
<text x="726.9" y="262.8" font-size="2.6" fill="#ddd" text-anchor="middle" textLength="25" lengthAdjust="spacingAndGlyphs" font-weight="bold">RISK OF ELECTRIC SHOCK</text>
<rect x="712.6" y="264.2" width="28.6" height="3.7" fill="#f0f0f0"/>
<text x="726.9" y="267.1" font-size="3.2" fill="#333" text-anchor="middle" textLength="22" lengthAdjust="spacingAndGlyphs" font-weight="bold">DO NOT OPEN</text>
<circle cx="727.1" cy="288.2" r="4.4" fill="#141414"/>
<path d="M733.2,288.6 L738.4,288.6 L738.4,296 M735.8,293.4 L738.4,296.4 L741,293.4" fill="none" stroke="#d4d4d4" stroke-width="1"/>
<rect x="87.8" y="305" width="2.4" height="51" fill="#72b043"/>
<rect x="118" y="305" width="2.4" height="51" fill="#72b043"/>
<rect x="150.7" y="305" width="2.4" height="51" fill="#72b043"/>
<rect x="180.8" y="305" width="2.4" height="51" fill="#72b043"/>
<rect x="213.8" y="305" width="2.4" height="54" fill="#72b043"/>
<rect x="242.6" y="305" width="2.4" height="54" fill="#72b043"/>
<rect x="282.2" y="305" width="2.2" height="198" fill="#0c0c0c"/>
<rect x="313.3" y="305" width="2.2" height="164" fill="#0c0c0c"/>
<rect x="344.6" y="305" width="2.2" height="198" fill="#0c0c0c"/>
<rect x="374.9" y="305" width="2.2" height="164" fill="#0c0c0c"/>
<rect x="407.3" y="305" width="2.2" height="198" fill="#0c0c0c"/>
<rect x="439" y="305" width="2.2" height="54" fill="#0c0c0c"/>
<use href="#micg" transform="translate(78.4,351.6)"/>
<use href="#micg" transform="translate(109.4,351.6)"/>
<use href="#micg" transform="translate(140.6,351.6)"/>
<use href="#micg" transform="translate(171.7,351.6)"/>
<text x="142.7" y="394" font-size="12" fill="#231f20" text-anchor="middle" textLength="68.2" lengthAdjust="spacingAndGlyphs" stroke="#231f20" stroke-width="0.42">4 x Mic Input</text>
<rect x="204.4" y="358.3" width="52" height="21" fill="#1b5385"/>
<text x="230.4" y="373.3" font-size="13" fill="#fff" text-anchor="middle" textLength="44" lengthAdjust="spacingAndGlyphs" stroke="#fff" stroke-width="0.18">Source1</text>
<text x="229.7" y="397.6" font-size="12" fill="#231f20" text-anchor="middle" textLength="51.7" lengthAdjust="spacingAndGlyphs" stroke="#231f20" stroke-width="0.42">1 x Stereo</text>
<text x="230.3" y="412.3" font-size="12" fill="#231f20" text-anchor="middle" textLength="53" lengthAdjust="spacingAndGlyphs" stroke="#231f20" stroke-width="0.42">Line Input</text>
<text x="302.3" y="335.3" font-size="9.6" fill="#231f20" text-anchor="middle" textLength="13.4" lengthAdjust="spacingAndGlyphs" stroke="#231f20" stroke-width="0.4">6 x</text>
<text x="329.4" y="335.3" font-size="9.6" fill="#231f20" text-anchor="middle" textLength="17.5" lengthAdjust="spacingAndGlyphs" stroke="#231f20" stroke-width="0.4">Line</text>
<text x="356.9" y="335.3" font-size="9.6" fill="#231f20" text-anchor="middle" textLength="16.2" lengthAdjust="spacingAndGlyphs" stroke="#231f20" stroke-width="0.4">Out</text>
<rect x="271" y="358.6" width="146.3" height="21.2" fill="#1b5385"/>
<text x="344" y="373.6" font-size="13.5" fill="#fff" text-anchor="middle" textLength="50" lengthAdjust="spacingAndGlyphs" stroke="#fff" stroke-width="0.18">Amplifier</text>
<rect x="420.9" y="358.6" width="56.4" height="23.1" fill="#3d6121"/>
<text x="448" y="367.2" font-size="9.8" fill="#eef2d8" text-anchor="middle" textLength="27.3" lengthAdjust="spacingAndGlyphs" stroke="#eef2d8" stroke-width="0.3">Active</text>
<text x="448.9" y="377.6" font-size="9.8" fill="#eef2d8" text-anchor="middle" textLength="48.8" lengthAdjust="spacingAndGlyphs" stroke="#eef2d8" stroke-width="0.3">Subwoofer</text>
<use href="#wall" transform="translate(271.4,502.3)"/>
<use href="#wall" transform="translate(299.3,468.3)"/>
<use href="#wall" transform="translate(333.4,502.3)"/>
<use href="#wall" transform="translate(361.6,468.3)"/>
<use href="#wall" transform="translate(396.6,502.3)"/>
<text x="487.5" y="321.3" font-size="12" fill="#231f20" text-anchor="middle" textLength="34" lengthAdjust="spacingAndGlyphs" stroke="#231f20" stroke-width="0.42">RS485</text>
<text x="545.4" y="321.3" font-size="12" fill="#231f20" text-anchor="middle" textLength="29.2" lengthAdjust="spacingAndGlyphs" stroke="#231f20" stroke-width="0.42">Logic</text>
<text x="545.4" y="336.8" font-size="12" fill="#231f20" text-anchor="middle" textLength="49.5" lengthAdjust="spacingAndGlyphs" stroke="#231f20" stroke-width="0.42">&amp; Control</text>
<text x="545.4" y="351.3" font-size="12" fill="#231f20" text-anchor="middle" stroke="#231f20" stroke-width="0.42">I/O</text>
<text x="610.6" y="321.3" font-size="12" fill="#231f20" text-anchor="middle" textLength="21.3" lengthAdjust="spacingAndGlyphs" stroke="#231f20" stroke-width="0.42">PSU</text>
</svg>
</body></html>
